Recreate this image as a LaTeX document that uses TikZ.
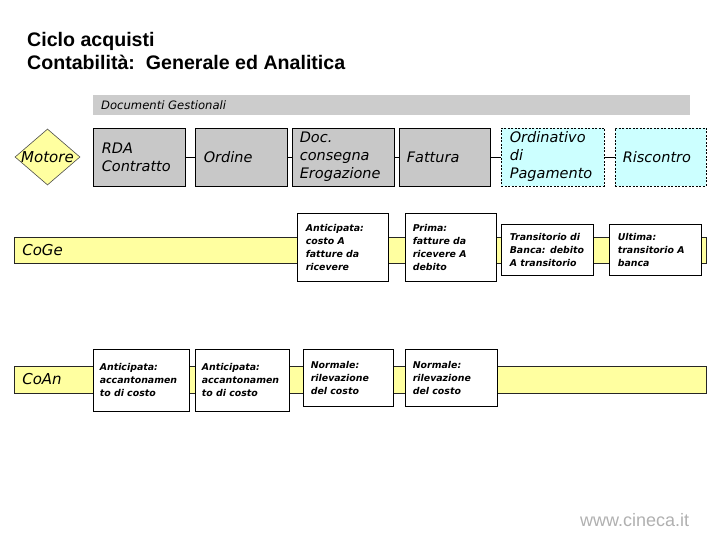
\documentclass[tikz,border=0pt]{standalone}
\usepackage{fontspec}
\setmainfont{DejaVu Sans}
\newfontfamily\arialf{Liberation Sans}
\usetikzlibrary{shapes.geometric}
\definecolor{boxgray}{RGB}{200,200,200}
\definecolor{bargray}{RGB}{204,204,204}
\definecolor{yell}{RGB}{255,255,160}
\definecolor{cyanl}{RGB}{204,255,255}
\definecolor{webgray}{RGB}{176,176,176}
\newcommand\bx[6]{\node[#6, minimum width=#4pt, minimum height=#5pt] (#1) at (#2,#3) {};}
\begin{document}
\begin{tikzpicture}[x=1pt,y=-1pt,
  boxbase/.style={draw=black, line width=0.8pt, inner sep=0pt},
  gbox/.style={boxbase, fill=boxgray},
  cbox/.style={boxbase, fill=cyanl, dash pattern=on 2pt off 1.5pt},
  wbox/.style={boxbase, fill=white},
  barbox/.style={draw=black!85, line width=0.8pt, fill=yell, inner sep=0pt},
  tone/.style={anchor=west, align=left, inner sep=0pt, font=\fontsize{14.5}{18}\selectfont\itshape},
  ttwo/.style={anchor=west, align=left, inner sep=0pt, font=\fontsize{9.4}{13}\selectfont\bfseries\itshape},
  conn/.style={draw=black, line width=0.8pt}
]
\useasboundingbox (0,0) rectangle (720,540);

% title
\node[anchor=base west, inner sep=0pt, font=\arialf\fontsize{19.6}{20}\selectfont\bfseries] (title1) at (27,47) {Ciclo acquisti};
\node[anchor=base west, inner sep=0pt, font=\arialf\fontsize{19.6}{20}\selectfont\bfseries] (title2) at (27,70) {Contabilità:\ \ Generale ed Analitica};

% documenti gestionali bar
\node[fill=bargray, inner sep=0pt, minimum width=597pt, minimum height=20pt] (docbar) at (391.5,105) {};
\node[anchor=west, inner sep=0pt, font=\fontsize{11.6}{13}\selectfont\itshape] (docbar-t) at (101,105) {Documenti Gestionali};

% motore
\node[diamond, draw=black!70, line width=0.6pt, fill=yell, inner sep=0pt, minimum width=65pt, minimum height=56pt] (mot) at (47.5,157) {};
\node[inner sep=0pt, font=\fontsize{15}{18}\selectfont\itshape] (mot-t) at (47.5,157) {Motore};

% row 1
\bx{rda}{139}{157}{92}{58}{gbox}
\bx{ord}{241}{157}{92}{58}{gbox}
\bx{doc}{343}{157}{102}{58}{gbox}
\bx{fat}{444.5}{157}{91}{58}{gbox}
\bx{ordp}{552.5}{157}{103}{58}{cbox}
\bx{ris}{660.5}{157}{91}{58}{cbox}
\draw[conn] (rda) -- (ord);
\draw[conn] (ord) -- (doc);
\draw[conn] (doc) -- (fat);
\draw[conn] (fat) -- (ordp);
\draw[conn] (ordp) -- (ris);
\node[tone] (rda-t) at ([xshift=9pt]rda.west) {RDA\\Contratto};
\node[tone] (ord-t) at ([xshift=9pt]ord.west) {Ordine};
\node[tone] (doc-t) at ([xshift=8pt]doc.west) {Doc.\\consegna\\Erogazione};
\node[tone] (fat-t) at ([xshift=8pt]fat.west) {Fattura};
\node[tone] (ordp-t) at ([xshift=9pt]ordp.west) {Ordinativo\\di\\Pagamento};
\node[tone] (ris-t) at ([xshift=8pt]ris.west) {Riscontro};

% CoGe row
\node[barbox, minimum width=691.5pt, minimum height=26.5pt] (coge) at (360.25,250.25) {};
\node[anchor=west, inner sep=0pt, font=\fontsize{15}{18}\selectfont\itshape] (coge-t) at ([xshift=8pt]coge.west) {CoGe};
\bx{ant}{342.5}{247}{91}{68}{wbox}
\bx{pri}{450.5}{247}{91}{68}{wbox}
\bx{tra}{547}{249.5}{92}{51}{wbox}
\bx{ult}{655}{249.5}{92}{51}{wbox}
\node[ttwo] (ant-t) at ([xshift=9pt]ant.west) {Anticipata:\\costo A\\fatture da\\ricevere};
\node[ttwo] (pri-t) at ([xshift=8pt]pri.west) {Prima:\\fatture da\\ricevere A\\debito};
\node[ttwo] (tra-t) at ([xshift=9pt]tra.west) {Transitorio di\\Banca: debito\\A transitorio};
\node[ttwo] (ult-t) at ([xshift=9pt]ult.west) {Ultima:\\transitorio A\\banca};

% CoAn row
\node[barbox, minimum width=691.5pt, minimum height=27pt] (coan) at (360.25,379.5) {};
\node[anchor=west, inner sep=0pt, font=\fontsize{15}{18}\selectfont\itshape] (coan-t) at ([xshift=8pt]coan.west) {CoAn};
\bx{an1}{141}{380}{96}{62}{wbox}
\bx{an2}{242}{380}{94}{62}{wbox}
\bx{no1}{348}{377.5}{90}{57}{wbox}
\bx{no2}{451}{377.5}{92}{57}{wbox}
\node[ttwo] (an1-t) at ([xshift=7pt]an1.west) {Anticipata:\\accantonamen\\to di costo};
\node[ttwo] (an2-t) at ([xshift=7pt]an2.west) {Anticipata:\\accantonamen\\to di costo};
\node[ttwo] (no1-t) at ([xshift=8pt]no1.west) {Normale:\\rilevazione\\del costo};
\node[ttwo] (no2-t) at ([xshift=8pt]no2.west) {Normale:\\rilevazione\\del costo};

% footer
\node[anchor=base west, inner sep=0pt, text=webgray, font=\arialf\fontsize{18}{20}\selectfont] (web) at (580,526) {www.cineca.it};
\end{tikzpicture}
\end{document}
